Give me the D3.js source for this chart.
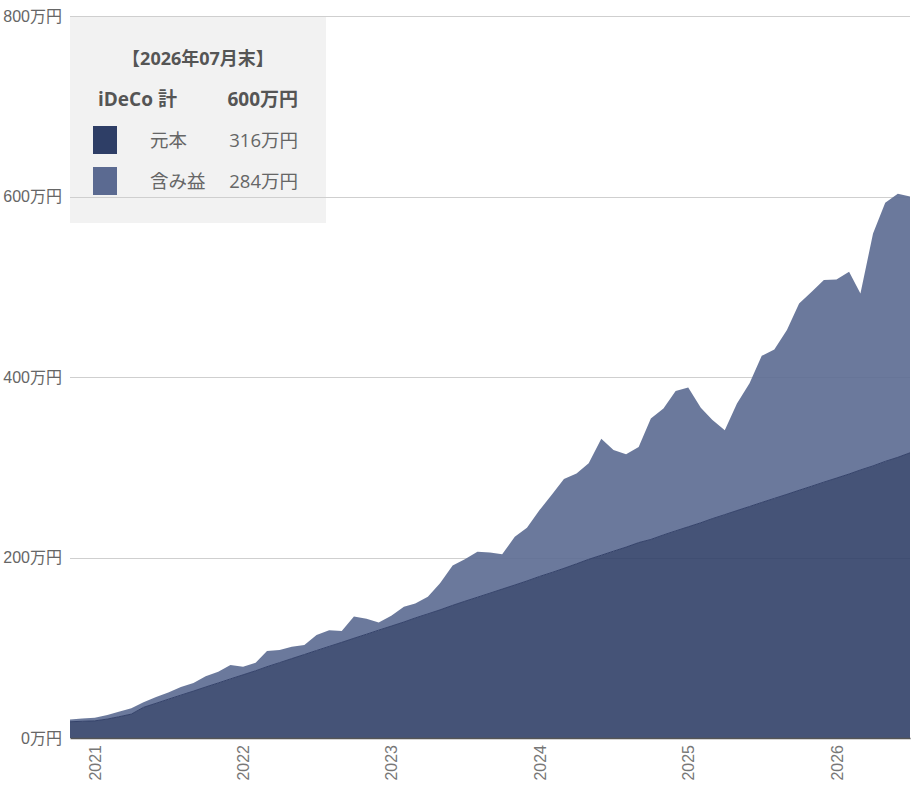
<!DOCTYPE html>
<html>
<head>
<meta charset="utf-8">
<script src="https://cdn.jsdelivr.net/npm/d3@7"></script>
<style>
	body { margin: 0; background: #fff; }
	svg text { font-family: "Liberation Sans", "Noto Sans CJK JP", sans-serif; }
	.legend text { font-family: "Open Sans", "Noto Sans CJK JP", sans-serif; }
</style>
</head>
<body>
<div id="chart"></div>
<script>
	"use strict";

	// monthly, 2020-11 .. 2026-07 (values in 万円)
	var startMonth = new Date(2020, 10, 1),
		endMonth = new Date(2026, 6, 1);

	var principal = [
		18, 18.5, 19, 21, 23.5, 26.5, 34, 38.5, 43, 47.5,
		52, 56.5, 61, 65.5, 70, 74.5, 79, 83.5, 88, 92.5,
		97, 101.5, 106, 110.5, 115, 119.5, 124, 128.5, 133, 137.5,
		142, 147, 151.5, 156, 160.5, 165, 169.5, 174, 179, 183.5,
		188, 193, 198, 202.5, 207, 211.5, 216.5, 220, 225, 229.5,
		234, 238.5, 243, 247.5, 252, 256.5, 261, 265.5, 270, 274.5,
		279, 283.5, 288, 292.5, 297, 301.5, 306.5, 311, 316
	];

	var total = [
		20.5, 21.5, 22.5, 25.5, 29, 33, 39.5, 45.5, 50.5, 56.5,
		61, 68.5, 73.5, 81, 79, 83.5, 96.5, 97.5, 101, 103,
		114, 119.5, 118.5, 134.5, 132, 128, 135.5, 145.5, 149, 156.5,
		171.5, 191, 198, 206.5, 205.5, 203.5, 223, 233, 252.5, 270,
		287, 293, 304.5, 331.5, 319, 314.5, 322.5, 354, 365, 384.5,
		388.5, 366, 352.5, 341, 370.5, 393, 423.5, 430.5, 452, 481.5,
		494.5, 507.5, 508, 516.5, 492.5, 559, 593, 603, 600
	];

	var yTicks = [0, 200, 400, 600, 800],
		legendTitle = "【2026年07月末】",
		legendRows = [
			{ label: "元本", value: "316万円", color: "#2e3e66" },
			{ label: "含み益", value: "284万円", color: "#5b6a91" }
		];

	var width = 916,
		height = 787,
		margin = { top: 16, right: 6, bottom: 49, left: 70 },
		innerW = width - margin.left - margin.right,
		innerH = height - margin.top - margin.bottom;

	var months = d3.timeMonth.range(startMonth, d3.timeMonth.offset(endMonth, 1));
	var data = months.map(function(d, i) {
		return { date: d, principal: principal[i], total: total[i] };
	});

	var x = d3.scaleTime()
			.domain([startMonth, endMonth])
			.range([0, innerW]),
		y = d3.scaleLinear()
			.domain([0, 800])
			.range([innerH, 0]);

	var svg = d3.select("#chart")
		.append("svg")
		.attr("width", width)
		.attr("height", height);

	var g = svg.append("g")
		.attr("transform", "translate(" + margin.left + "," + margin.top + ")");

	// legend box sits under the grid
	var legend = g.append("g").classed("legend", true);
	legend.append("rect")
		.attr("x", 0)
		.attr("y", 0)
		.attr("width", 256)
		.attr("height", 207)
		.attr("fill", "#f2f2f2");

	// grid
	g.append("g")
		.selectAll("line")
		.data(yTicks.filter(function(d) { return d > 0; }))
		.enter()
		.append("line")
		.attr("x1", 0)
		.attr("x2", innerW)
		.attr("y1", function(d) { return Math.round(y(d)) + 0.5; })
		.attr("y2", function(d) { return Math.round(y(d)) + 0.5; })
		.attr("stroke", "#cfcfcf")
		.attr("stroke-width", 1);

	// y labels
	g.append("g")
		.selectAll("text")
		.data(yTicks)
		.enter()
		.append("text")
		.attr("x", -8)
		.attr("y", function(d) { return y(d); })
		.attr("dy", "0.35em")
		.attr("text-anchor", "end")
		.attr("fill", "#666")
		.style("font-size", "16px")
		.text(function(d) { return d + "万円"; });

	var gainArea = d3.area()
			.x(function(d) { return x(d.date); })
			.y0(function(d) { return y(d.principal); })
			.y1(function(d) { return y(d.total); }),
		principalArea = d3.area()
			.x(function(d) { return x(d.date); })
			.y0(y(0))
			.y1(function(d) { return y(d.principal); }),
		principalLine = d3.line()
			.x(function(d) { return x(d.date); })
			.y(function(d) { return y(d.principal); });

	g.append("path")
		.datum(data)
		.attr("d", gainArea)
		.attr("fill", "#5b6a91")
		.attr("fill-opacity", 0.9);

	g.append("path")
		.datum(data)
		.attr("d", principalArea)
		.attr("fill", "#2e3e66")
		.attr("fill-opacity", 0.89);

	g.append("path")
		.datum(data)
		.attr("d", principalLine)
		.attr("fill", "none")
		.attr("stroke", "#34426a")
		.attr("stroke-width", 1);

	// x axis
	var xAxis = g.append("g")
		.attr("transform", "translate(0," + innerH + ")")
		.call(d3.axisBottom(x)
			.ticks(d3.timeYear.every(1))
			.tickSize(0)
			.tickFormat(d3.timeFormat("%Y")));

	xAxis.select(".domain")
		.attr("stroke", "#555")
		.attr("stroke-width", 1.5);

	xAxis.selectAll("text")
		.attr("transform", "rotate(-90)")
		.attr("x", -7)
		.attr("y", 0)
		.attr("dy", "0.35em")
		.attr("text-anchor", "end")
		.attr("fill", "#777")
		.style("font-size", "16px")
		.style("font-family", "'Liberation Sans', sans-serif");

	// legend text
	legend.append("text")
		.attr("x", 128)
		.attr("y", 49)
		.attr("text-anchor", "middle")
		.attr("fill", "#555")
		.style("font-size", "18px")
		.style("font-weight", "bold")
		.text(legendTitle);

	legend.append("text")
		.attr("x", 28)
		.attr("y", 90)
		.attr("fill", "#555")
		.style("font-size", "19px")
		.style("font-weight", "bold")
		.text("iDeCo 計");

	legend.append("text")
		.attr("x", 228)
		.attr("y", 90)
		.attr("text-anchor", "end")
		.attr("fill", "#555")
		.style("font-size", "19px")
		.style("font-weight", "bold")
		.text(d3.format("d")(total[total.length - 1]) + "万円");

	var row = legend.selectAll("g.row")
		.data(legendRows)
		.enter()
		.append("g")
		.classed("row", true)
		.attr("transform", function(d, i) {
			return "translate(0," + (110 + i * 41) + ")";
		});

	row.append("rect")
		.attr("x", 23)
		.attr("y", 0)
		.attr("width", 24)
		.attr("height", 28)
		.attr("fill", function(d) { return d.color; });

	row.append("text")
		.attr("x", 80)
		.attr("y", 21)
		.attr("fill", "#666")
		.style("font-size", "18.5px")
		.text(function(d) { return d.label; });

	row.append("text")
		.attr("x", 228)
		.attr("y", 21)
		.attr("text-anchor", "end")
		.attr("fill", "#666")
		.style("font-size", "18.5px")
		.text(function(d) { return d.value; });
</script>
</body>
</html>
